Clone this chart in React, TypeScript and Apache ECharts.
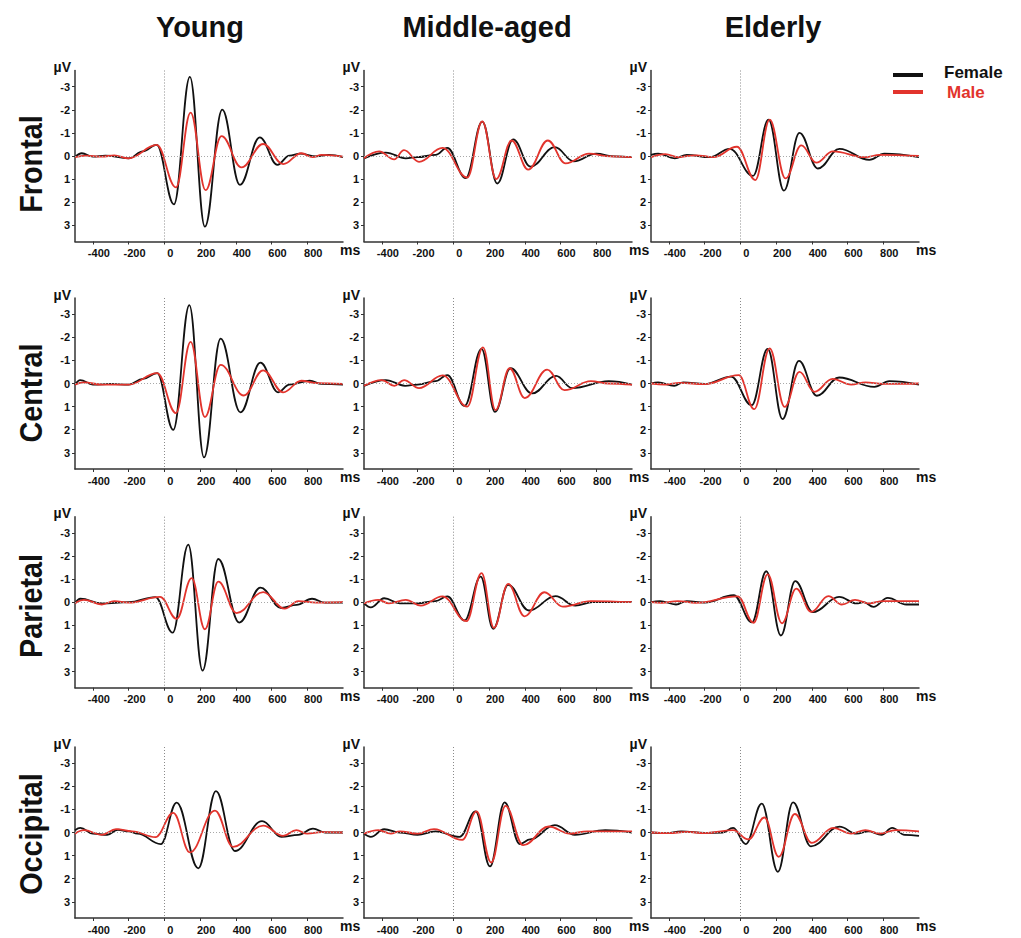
import React, { useEffect, useRef } from "react";
import * as echarts from "echarts";

// ---------- labels ----------
const groups = ["Young", "Middle-aged", "Elderly"];
const regions = ["Frontal", "Central", "Parietal", "Occipital"];
const xTicks = [-400, -200, 0, 200, 400, 600, 800];
const yTicks = [-3, -2, -1, 0, 1, 2, 3];
const seriesNames = ["Female", "Male"];

// ---------- data: [ms, µV] at the waveform's turning points ----------
// Young
const youngFrontalFemale = [[-500,0.05],[-462,-0.12],[-400,0.03],[-330,-0.02],[-200,0.1],[-120,-0.2],[-43,-0.48],[54,2.09],[143,-3.42],[227,3.06],[324,-2.01],[423,1.25],[534,-0.81],[633,0.38],[700,-0.02],[760,-0.1],[850,0.02],[920,-0.05],[1000,0.05]];
const youngFrontalMale = [[-500,0.05],[-440,-0.02],[-350,0.03],[-280,-0.03],[-200,0.1],[-43,-0.48],[65,1.36],[147,-1.88],[231,1.48],[320,-0.86],[432,0.49],[553,-0.52],[665,0.35],[767,-0.12],[830,0.05],[880,-0.05],[1000,0.03]];
const youngCentralFemale = [[-500,0.05],[-471,-0.15],[-400,0.05],[-300,0.02],[-200,0.05],[-120,-0.2],[-40,-0.45],[50,2.01],[140,-3.39],[222,3.2],[315,-1.94],[426,1.25],[538,-0.9],[637,0.38],[700,0.05],[814,-0.12],[880,0.02],[1000,0.05]];
const youngCentralMale = [[-500,0.05],[-450,-0.05],[-350,0.05],[-200,0.05],[-40,-0.45],[65,1.28],[147,-1.8],[227,1.45],[315,-0.81],[445,0.52],[553,-0.57],[665,0.38],[767,-0.12],[850,-0.02],[1000,0.02]];
const youngParietalFemale = [[-500,0.05],[-470,-0.15],[-350,0.05],[-200,0.0],[-50,-0.22],[47,1.32],[134,-2.49],[214,2.96],[302,-1.87],[419,0.88],[538,-0.63],[655,0.25],[740,0.12],[827,-0.15],[900,0.02],[1000,0.02]];
const youngParietalMale = [[-500,0.05],[-450,-0.1],[-350,0.1],[-280,-0.05],[-200,0.02],[-24,-0.23],[69,0.72],[153,-1.04],[227,1.17],[302,-0.89],[404,0.47],[553,-0.44],[674,0.28],[750,-0.05],[850,0.02],[1000,0.0]];
const youngOccipitalFemale = [[-500,-0.1],[-470,-0.2],[-400,0.05],[-320,0.1],[-260,-0.12],[-200,-0.05],[-150,0.05],[-20,0.5],[69,-1.29],[190,1.55],[289,-1.79],[395,0.8],[547,-0.49],[655,0.19],[750,0.1],[832,-0.17],[900,0.0],[1000,0.0]];
const youngOccipitalMale = [[-500,0.05],[-450,-0.1],[-350,0.1],[-270,-0.15],[-180,-0.05],[-50,0.2],[50,-0.85],[143,0.86],[283,-0.95],[385,0.62],[553,-0.3],[665,0.15],[739,-0.1],[800,0.05],[880,-0.02],[1000,0.0]];
// Middle-aged
const middleFrontalFemale = [[-500,0.1],[-378,-0.15],[-266,0.1],[-200,0.05],[-100,-0.05],[-34,-0.35],[69,0.96],[162,-1.49],[246,1.19],[335,-0.72],[432,0.46],[568,-0.38],[674,0.23],[800,-0.1],[900,0.02],[1000,0.05]];
const middleFrontalMale = [[-500,0.1],[-415,-0.2],[-331,0.15],[-276,-0.25],[-192,0.25],[-61,-0.35],[78,0.93],[162,-1.5],[240,1.0],[326,-0.67],[419,0.59],[529,-0.67],[628,0.32],[760,-0.1],[880,0.02],[1000,0.05]];
const middleCentralFemale = [[-500,0.1],[-378,-0.15],[-270,0.1],[-200,0.05],[-100,-0.1],[-34,-0.36],[63,0.97],[158,-1.5],[233,1.23],[320,-0.66],[441,0.43],[575,-0.33],[665,0.2],[870,-0.1],[1000,0.05]];
const middleCentralMale = [[-500,0.1],[-400,-0.15],[-330,0.1],[-276,-0.15],[-192,0.2],[-60,-0.35],[78,1.0],[166,-1.56],[236,1.15],[315,-0.66],[400,0.63],[525,-0.6],[622,0.29],[770,-0.1],[870,0.0],[1000,0.05]];
const middleParietalFemale = [[-500,0.05],[-462,0.22],[-387,-0.17],[-300,0.05],[-200,0.05],[-100,-0.05],[-34,-0.25],[63,0.79],[153,-1.11],[223,1.15],[307,-0.75],[423,0.36],[572,-0.26],[683,0.15],[780,0.0],[1000,0.0]];
const middleParietalMale = [[-500,0.05],[-420,-0.1],[-360,0.05],[-266,-0.1],[-182,0.15],[-61,-0.25],[73,0.82],[158,-1.26],[227,1.11],[307,-0.79],[398,0.61],[510,-0.43],[613,0.19],[770,-0.05],[1000,0.0]];
const middleOccipitalFemale = [[-500,0.05],[-462,0.19],[-387,-0.14],[-300,0.0],[-200,0.1],[-100,-0.05],[35,0.19],[125,-0.91],[205,1.47],[287,-1.3],[372,0.5],[430,0.3],[568,-0.32],[680,0.1],[851,-0.1],[1000,0.0]];
const middleOccipitalMale = [[-500,0.05],[-420,-0.1],[-350,0.05],[-300,-0.05],[-200,0.05],[-108,-0.15],[50,0.32],[130,-0.91],[212,1.3],[292,-1.15],[391,0.55],[534,-0.26],[650,0.05],[750,-0.05],[1000,-0.05]];
// Elderly
const elderlyFrontalFemale = [[-500,-0.05],[-460,-0.1],[-367,0.1],[-300,-0.05],[-170,0.05],[-60,-0.31],[71,0.86],[158,-1.57],[244,1.5],[331,-1.0],[434,0.54],[555,-0.31],[722,0.17],[806,-0.1],[1000,0.05]];
const elderlyFrontalMale = [[-500,0.05],[-420,-0.08],[-350,0.05],[-250,-0.03],[-150,0.05],[-19,-0.4],[84,1.04],[164,-1.57],[253,0.97],[341,-0.46],[425,0.29],[518,-0.2],[700,0.05],[780,-0.05],[1000,0.0]];
const elderlyCentralFemale = [[-500,0.0],[-460,-0.05],[-370,0.1],[-320,-0.05],[-200,0.02],[-52,-0.3],[63,0.94],[153,-1.5],[236,1.54],[328,-0.98],[428,0.53],[553,-0.26],[750,0.15],[834,-0.1],[1000,0.05]];
const elderlyCentralMale = [[-500,0.0],[-420,0.05],[-340,-0.03],[-200,0.03],[-9,-0.36],[78,1.11],[164,-1.52],[248,1.01],[331,-0.5],[415,0.36],[516,-0.2],[620,0.05],[700,-0.05],[800,0.02],[1000,0.0]];
const elderlyParietalFemale = [[-500,0.0],[-450,-0.05],[-360,0.1],[-300,-0.05],[-200,0.02],[-37,-0.3],[65,0.87],[145,-1.34],[227,1.44],[307,-0.91],[406,0.43],[553,-0.23],[650,0.05],[690,0.0],[745,0.2],[825,-0.19],[930,0.1],[1000,0.1]];
const elderlyParietalMale = [[-500,0.0],[-440,0.03],[-350,-0.05],[-250,0.03],[-15,-0.25],[74,0.89],[153,-1.2],[233,0.91],[313,-0.59],[397,0.42],[493,-0.26],[568,0.1],[642,-0.1],[720,0.05],[800,-0.05],[1000,-0.05]];
const elderlyOccipitalFemale = [[-500,0.0],[-420,0.03],[-330,-0.05],[-200,0.02],[-100,0.0],[-40,-0.2],[30,0.5],[120,-1.25],[210,1.7],[295,-1.3],[395,0.6],[555,-0.25],[650,0.05],[720,-0.05],[790,0.1],[850,-0.2],[920,0.1],[1000,0.15]];
const elderlyOccipitalMale = [[-500,0.0],[-400,0.03],[-300,-0.03],[-200,0.03],[-40,-0.1],[45,0.3],[135,-0.65],[215,1.05],[305,-0.8],[400,0.45],[520,-0.2],[620,0.05],[700,-0.1],[780,0.05],[870,-0.1],[1000,-0.05]];

// [region][group]
const femaleData = [
  [youngFrontalFemale, middleFrontalFemale, elderlyFrontalFemale],
  [youngCentralFemale, middleCentralFemale, elderlyCentralFemale],
  [youngParietalFemale, middleParietalFemale, elderlyParietalFemale],
  [youngOccipitalFemale, middleOccipitalFemale, elderlyOccipitalFemale],
];
const maleData = [
  [youngFrontalMale, middleFrontalMale, elderlyFrontalMale],
  [youngCentralMale, middleCentralMale, elderlyCentralMale],
  [youngParietalMale, middleParietalMale, elderlyParietalMale],
  [youngOccipitalMale, middleOccipitalMale, elderlyOccipitalMale],
];

// ---------- layout / style ----------
const W = 1021;
const H = 938;
const colLeft = [75, 364, 651];
const rowTop = [70.5, 298, 516.7, 747];
const gridW = 268;
const gridH = 171;
const titleX = [200, 487, 773];
const regionY = [164, 393, 606, 834];
const FONT = "'Liberation Sans', Arial, Helvetica, sans-serif";
const BLACK = "#111111";
const RED = "#e2342d";
const AXIS = "#333333";

export default function App() {
  const ref = useRef<HTMLDivElement>(null);

  useEffect(() => {
    if (!ref.current) return;
    const chart = echarts.init(ref.current, null, { renderer: "svg" });

    const grids: any[] = [];
    const xAxes: any[] = [];
    const yAxes: any[] = [];
    const series: any[] = [];
    const graphics: any[] = [];

    regions.forEach((_, r) => {
      groups.forEach((__, c) => {
        const i = r * 3 + c;
        grids.push({
          left: colLeft[c],
          top: rowTop[r],
          width: gridW,
          height: gridH,
          containLabel: false,
          outerBoundsMode: "none",
        });
        xAxes.push({
          gridIndex: i,
          type: "value",
          min: -500,
          max: 1000,
          position: "bottom",
          axisLine: { show: true, onZero: false, lineStyle: { color: AXIS, width: 1.5 } },
          axisTick: { show: true, customValues: xTicks, length: 3, lineStyle: { color: AXIS, width: 1 } },
          axisLabel: {
            customValues: xTicks,
            fontSize: 11,
            fontWeight: "bold",
            fontFamily: FONT,
            color: BLACK,
            margin: 6,
            padding: [0, 0, 0, 12],
          },
          splitLine: { show: false },
        });
        yAxes.push({
          gridIndex: i,
          type: "value",
          inverse: true,
          min: -3.7,
          max: 3.7,
          position: "left",
          axisLine: { show: true, onZero: false, lineStyle: { color: AXIS, width: 1.5 } },
          axisTick: { show: true, customValues: yTicks, length: 3, lineStyle: { color: AXIS, width: 1 } },
          axisLabel: {
            customValues: yTicks,
            fontSize: 11,
            fontWeight: "bold",
            fontFamily: FONT,
            color: BLACK,
            margin: 5,
          },
          splitLine: { show: false },
        });
        series.push({
          name: seriesNames[0],
          type: "line",
          xAxisIndex: i,
          yAxisIndex: i,
          data: femaleData[r][c],
          smooth: 0.4,
          smoothMonotone: "x",
          symbol: "none",
          showSymbol: false,
          lineStyle: { color: BLACK, width: 1.8 },
          itemStyle: { color: BLACK },
          z: 3,
          markLine: {
            silent: true,
            symbol: "none",
            label: { show: false },
            data: [
              { xAxis: 0, lineStyle: { color: "#8a8a8a", type: [1, 2], width: 1 } },
              { yAxis: 0, lineStyle: { color: "#a8a8a8", type: [1, 2], width: 1 } },
            ],
          },
        });
        series.push({
          name: seriesNames[1],
          type: "line",
          xAxisIndex: i,
          yAxisIndex: i,
          data: maleData[r][c],
          smooth: 0.4,
          smoothMonotone: "x",
          symbol: "none",
          showSymbol: false,
          lineStyle: { color: RED, width: 1.8 },
          itemStyle: { color: RED },
          z: 4,
        });
        // axis unit labels
        graphics.push({
          type: "text",
          x: colLeft[c] - 4,
          y: rowTop[r] - 3.5,
          style: {
            text: "µV",
            fill: BLACK,
            font: `bold 14px ${FONT}`,
            textAlign: "right",
            textVerticalAlign: "middle",
          },
        });
        graphics.push({
          type: "text",
          x: colLeft[c] + gridW - 3,
          y: rowTop[r] + gridH + 8,
          style: {
            text: "ms",
            fill: BLACK,
            font: `bold 14px ${FONT}`,
            textAlign: "left",
            textVerticalAlign: "middle",
          },
        });
      });
    });

    groups.forEach((g, c) => {
      graphics.push({
        type: "text",
        x: titleX[c],
        y: 27,
        style: {
          text: g,
          fill: BLACK,
          font: `bold 29px ${FONT}`,
          textAlign: "center",
          textVerticalAlign: "middle",
        },
      });
    });
    regions.forEach((name, r) => {
      graphics.push({
        type: "text",
        x: 30,
        y: regionY[r],
        rotation: Math.PI / 2,
        scaleX: 0.9,
        style: {
          text: name,
          fill: BLACK,
          font: `bold 32px ${FONT}`,
          textAlign: "center",
          textVerticalAlign: "middle",
        },
      });
    });

    // legend
    graphics.push({
      type: "line",
      shape: { x1: 893, y1: 75, x2: 923, y2: 75 },
      style: { stroke: BLACK, lineWidth: 4 },
    });
    graphics.push({
      type: "line",
      shape: { x1: 893, y1: 92, x2: 923, y2: 92 },
      style: { stroke: RED, lineWidth: 4 },
    });
    graphics.push({
      type: "text",
      x: 944,
      y: 72,
      style: { text: seriesNames[0], fill: BLACK, font: `bold 17px ${FONT}`, textAlign: "left", textVerticalAlign: "middle" },
    });
    graphics.push({
      type: "text",
      x: 947,
      y: 92,
      style: { text: seriesNames[1], fill: RED, font: `bold 17px ${FONT}`, textAlign: "left", textVerticalAlign: "middle" },
    });

    chart.setOption({
      animation: false,
      backgroundColor: "#ffffff",
      grid: grids,
      xAxis: xAxes,
      yAxis: yAxes,
      series,
      graphic: graphics,
    });

    return () => chart.dispose();
  }, []);

  return (
    <div
      ref={ref}
      style={{ position: "absolute", left: 0, top: 0, width: W, height: H, background: "#fff" }}
    />
  );
}
